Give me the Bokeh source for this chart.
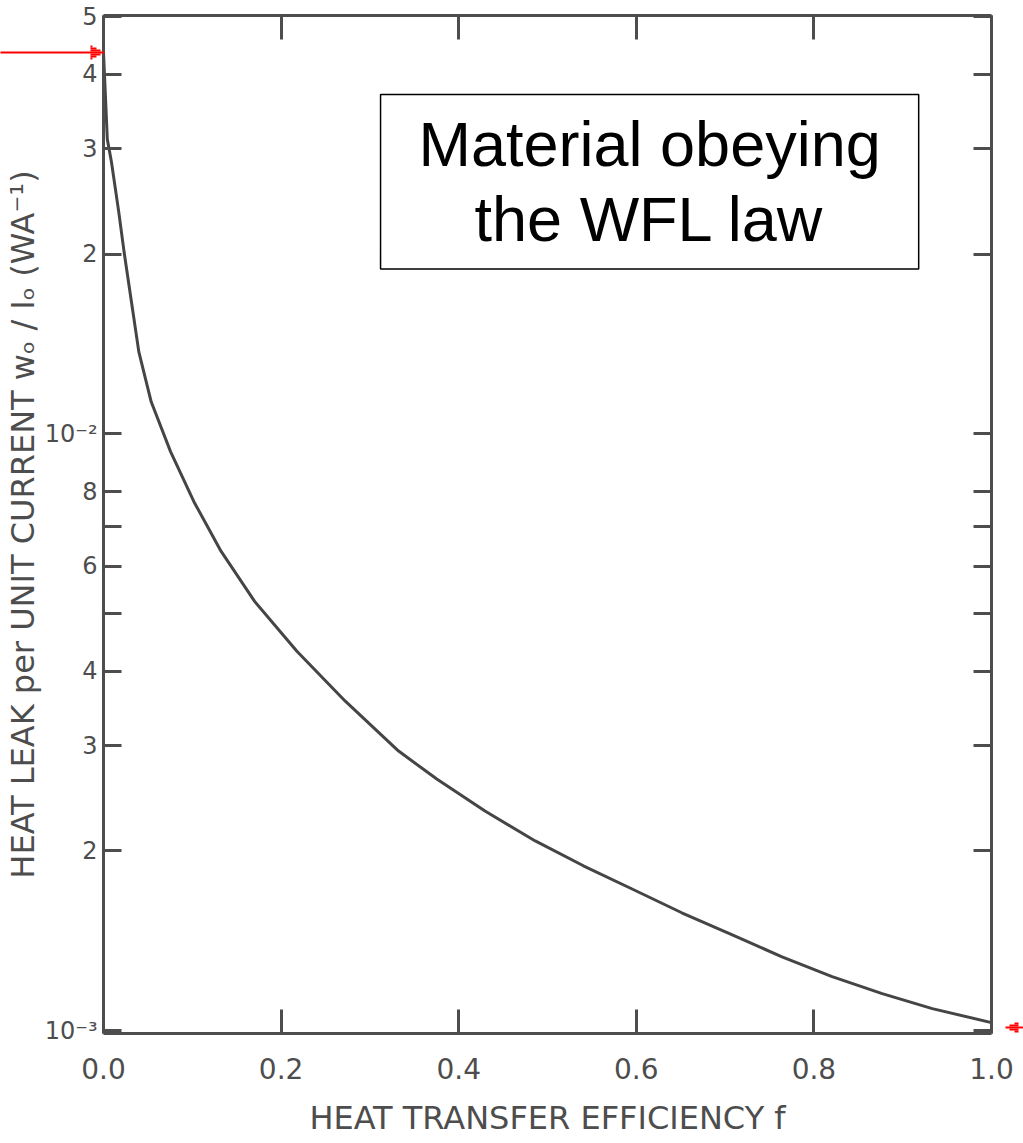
import numpy as np
from bokeh.plotting import figure
from bokeh.models import (FixedTicker, LogAxis, LinearAxis,
                          BoxAnnotation, Label, Range1d)
from bokeh.embed import file_html
from bokeh.resources import INLINE

# ---- data ----
f_vals = [0.0, 0.0043, 0.0090, 0.0172, 0.0232, 0.0315, 0.0398, 0.0537, 0.0755, 0.1018,
          0.1325, 0.1702, 0.2178, 0.2723, 0.3323, 0.3753, 0.4296, 0.4862, 0.5404, 0.5947,
          0.6512, 0.7075, 0.7641, 0.8205, 0.8769, 0.9333, 1.0]
heat_leak = [4.354e-2, 3.113e-2, 2.850e-2, 2.351e-2, 2.015e-2, 1.662e-2, 1.371e-2, 1.131e-2,
             9.33e-3, 7.693e-3, 6.349e-3, 5.236e-3, 4.319e-3, 3.563e-3, 2.939e-3, 2.638e-3,
             2.332e-3, 2.078e-3, 1.888e-3, 1.728e-3, 1.575e-3, 1.447e-3, 1.329e-3, 1.231e-3,
             1.153e-3, 1.088e-3, 1.031e-3]

x_ticks = [0.0, 0.2, 0.4, 0.6, 0.8, 1.0]
x_tick_labels = ["0.0", "0.2", "0.4", "0.6", "0.8", "1.0"]
y_ticks = [0.001, 0.002, 0.003, 0.004, 0.005, 0.006, 0.007, 0.008,
           0.01, 0.02, 0.03, 0.04, 0.05]
y_tick_labels = ["10\u207b\u00b3", "2", "3", "4", "", "6", "", "8",
                 "10\u207b\u00b2", "2", "3", "4", "5"]

# values marked by the red arrows (curve start and end)
arrow_left_value = heat_leak[0]
arrow_right_value = 1.01e-3

x_title = "HEAT TRANSFER EFFICIENCY f"
y_title = "HEAT LEAK per UNIT CURRENT w\u2092 / I\u2092 (WA\u207b\u00b9)"
box_text = "Material obeying\nthe WFL law"

# ---- styles ----
INK = "#4d4d4d"
FONT = "DejaVu Sans"
RED = "#ff0000"
PX_PER_DECADE = 596.8

p = figure(width=1023, height=1143,
           x_range=Range1d(0.0, 1.0), y_range=Range1d(0.9885e-3, 0.0502),
           y_axis_type="log", output_backend="svg", toolbar_location=None,
           min_border_left=103, min_border_right=32, min_border_top=15,
           min_border_bottom=110)
p.grid.visible = False
p.outline_line_color = None
p.background_fill_color = "white"
p.border_fill_color = "white"

p.line(f_vals, heat_leak, line_color="#454545", line_width=3)

def style_axis(ax, tick_len):
    ax.axis_line_color = INK
    ax.axis_line_width = 3
    ax.major_tick_line_color = INK
    ax.major_tick_line_width = 3
    ax.major_tick_in = tick_len
    ax.major_tick_out = 0
    ax.minor_tick_line_color = None
    ax.major_label_text_color = INK
    ax.major_label_text_font = FONT
    ax.axis_label_text_color = INK
    ax.axis_label_text_font = FONT
    ax.axis_label_text_font_style = "normal"

def hide_labels(ax):
    ax.major_label_text_font_size = "0px"
    ax.major_label_text_color = None
    ax.major_label_standoff = 0

# bottom x axis
xa = p.xaxis[0]
xa.ticker = FixedTicker(ticks=x_ticks)
xa.major_label_overrides = {t: s for t, s in zip(x_ticks, x_tick_labels)}
style_axis(xa, 24)
xa.major_label_text_font_size = "28px"
xa.major_label_standoff = 24
xa.axis_label = x_title
xa.axis_label_text_font_size = "32px"
xa.axis_label_standoff = 17

# left y axis
ya = p.yaxis[0]
ya.ticker = FixedTicker(ticks=y_ticks)
ya.major_label_overrides = {t: s for t, s in zip(y_ticks, y_tick_labels)}
style_axis(ya, 18)
ya.major_label_text_font_size = "24px"
ya.major_label_standoff = 6
ya.axis_label = y_title
ya.axis_label_text_font_size = "32px"
ya.axis_label_standoff = 0

# mirrored axes (top, right)
ta = LinearAxis(ticker=FixedTicker(ticks=x_ticks))
style_axis(ta, 24)
hide_labels(ta)
p.add_layout(ta, "above")

ra = LogAxis(ticker=FixedTicker(ticks=y_ticks))
style_axis(ra, 18)
hide_labels(ra)
p.add_layout(ra, "right")

# text box
p.add_layout(BoxAnnotation(left=0.312, right=0.918, top=3.70e-2, bottom=1.888e-2,
                           fill_color="white", fill_alpha=1.0,
                           line_color="black", line_alpha=1.0, line_width=1.5))
p.add_layout(Label(x=0.615, y=2.644e-2, text=box_text, text_align="center",
                   text_baseline="middle", text_font="Liberation Sans",
                   text_font_size="63px", text_color="black",
                   text_line_height=1.08))

# ---- red arrows, drawn as tick marks of extra (label-less) axes in the side panels ----
def red_ticks(value_, rows, tick_in, tick_out, dash, side):
    ticks = sorted({value_ * 10 ** (d / PX_PER_DECADE) for d in rows})
    ax = LogAxis(ticker=FixedTicker(ticks=ticks))
    ax.axis_line_color = None
    ax.minor_tick_line_color = None
    ax.major_tick_in = tick_in
    ax.major_tick_out = tick_out
    ax.major_tick_line_color = RED
    ax.major_tick_line_width = 2
    ax.major_tick_line_dash = dash
    hide_labels(ax)
    p.add_layout(ax, side)

# left arrow: shaft from the page edge to the frame, head tip on the y axis
red_ticks(arrow_left_value, [0], 104, 0, "solid", "left")
red_ticks(arrow_left_value, [2, -2], 100, 0, "0 90 200", "left")
red_ticks(arrow_left_value, [4, -4], 96, 0, "0 90 200", "left")
red_ticks(arrow_left_value, [6, -6], 92, 0, "0 90 200", "left")

# right arrow: shaft drawn outward from the frame edge (fills the 32px panel),
# head rows drawn inward from the outer page edge
red_ticks(arrow_right_value, [0], 0, 32, "18 200", "right")
red_ticks(arrow_right_value, [2, -2], 18, 0, "0 5 9 200", "right")
red_ticks(arrow_right_value, [4, -4], 18, 0, "0 5 4 200", "right")

open("out.html", "w").write(file_html(p, INLINE))
